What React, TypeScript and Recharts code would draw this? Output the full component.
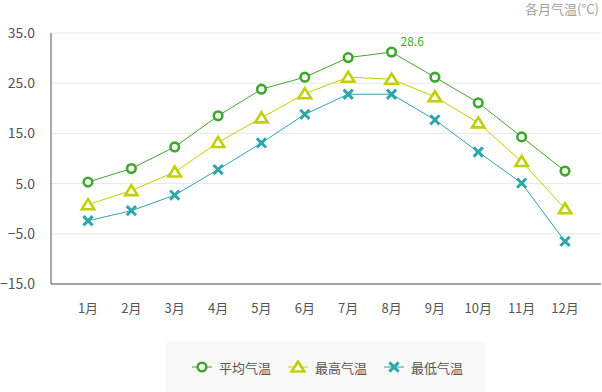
import { CartesianGrid, LabelList, Line, LineChart, XAxis, YAxis } from "recharts";

const months = ["1月", "2月", "3月", "4月", "5月", "6月", "7月", "8月", "9月", "10月", "11月", "12月"];
const avgTemp = [5.3, 8.0, 12.3, 18.5, 23.8, 26.2, 30.1, 31.2, 26.2, 21.1, 14.3, 7.5];
const maxTemp = [0.8, 3.6, 7.3, 13.2, 18.1, 22.9, 26.2, 25.8, 22.3, 17.1, 9.4, 0.0];
const minTemp = [-2.4, -0.4, 2.7, 7.8, 13.1, 18.8, 22.8, 22.8, 17.7, 11.3, 5.1, -6.5];
const yTicks = [-15, -5, 5, 15, 25, 35];
const peakMonth = "8月";
const peakText = "28.6";

const seriesNames = ["平均气温", "最高气温", "最低气温"];
const seriesColors = ["#3ea82c", "#c0d000", "#2ea6aa"];

const data = months.map((m, i) => ({
  month: m,
  avg: avgTemp[i],
  max: maxTemp[i],
  min: minTemp[i],
}));

const font = "'Noto Sans CJK SC', 'Noto Sans', sans-serif";

function Circle({ cx, cy, color }: any) {
  return <circle cx={cx} cy={cy} r={4.3} fill="#fff" stroke={color} strokeWidth={2.6} />;
}

function Triangle({ cx, cy, color }: any) {
  const d = `M${cx},${cy - 5.5} L${cx + 6.2},${cy + 4.5} L${cx - 6.2},${cy + 4.5} Z`;
  return <path d={d} fill="#fff" stroke={color} strokeWidth={2.6} strokeLinejoin="miter" />;
}

function Cross({ cx, cy, color }: any) {
  const s = 4.6;
  return (
    <g stroke={color} strokeWidth={3}>
      <line x1={cx - s} y1={cy - s} x2={cx + s} y2={cy + s} />
      <line x1={cx - s} y1={cy + s} x2={cx + s} y2={cy - s} />
    </g>
  );
}

const markers = [Circle, Triangle, Cross];

function PeakLabel(props: any) {
  const { x, y, index } = props;
  if (months[index] !== peakMonth) return null;
  return (
    <text x={x + 9} y={y - 6} fill={seriesColors[0]} fontSize={12} fontFamily={font}>
      {peakText}
    </text>
  );
}

function LegendIcon({ i }: { i: number }) {
  const Marker = markers[i];
  return (
    <svg width={22} height={14} style={{ display: "block" }}>
      <line x1={1} y1={7} x2={21} y2={7} stroke={seriesColors[i]} strokeWidth={1} />
      <Marker cx={11} cy={7} color={seriesColors[i]} />
    </svg>
  );
}

export default function App() {
  const keys = ["avg", "max", "min"];
  return (
    <div style={{ position: "absolute", left: 0, top: 0, width: 602, height: 392, background: "#fff", fontFamily: font }}>
      <div style={{ position: "absolute", right: 3, top: 1, fontSize: 13, lineHeight: "16px", color: "#a0a0a0" }}>各月气温(°C)</div>
      <LineChart width={602} height={342} data={data} margin={{ top: 33, right: 1, left: 0, bottom: 0 }}>
        <CartesianGrid vertical={false} stroke="#e8e8e8" />
        <XAxis
          dataKey="month"
          padding={{ left: 37, right: 36 }}
          height={58}
          tickLine={false}
          tickSize={0}
          tickMargin={20}
          axisLine={{ stroke: "#555" }}
          tick={{ fill: "#555", fontSize: 13, fontFamily: font }}
          interval={0}
        />
        <YAxis
          width={51}
          domain={[-15, 35]}
          ticks={yTicks}
          tickLine={false}
          tickSize={0}
          tickMargin={16}
          axisLine={{ stroke: "#555" }}
          tick={{ fill: "#555", fontSize: 14, fontFamily: font }}
          tickFormatter={(v: number) => v.toFixed(1).replace("-", "\u2212")}
        />
        {keys.map((k, i) => {
          const Marker = markers[i];
          return (
            <Line
              key={k}
              type="linear"
              dataKey={k}
              stroke={seriesColors[i]}
              strokeWidth={1}
              isAnimationActive={false}
              dot={(p: any) => <Marker key={p.index} cx={p.cx} cy={p.cy} color={seriesColors[i]} />}
              activeDot={false}
            >
              {i === 0 && <LabelList dataKey={k} content={PeakLabel} />}
            </Line>
          );
        })}
      </LineChart>
      <div
        style={{
          position: "absolute",
          left: 166,
          top: 342,
          width: 319,
          height: 50,
          background: "#f8f8f8",
          display: "flex",
          alignItems: "center",
          fontSize: 13,
          color: "#555",
        }}
      >
        {seriesNames.map((n, i) => (
          <div key={n} style={{ display: "flex", alignItems: "center", position: "absolute", left: [25, 121, 217][i] }}>
            <LegendIcon i={i} />
            <span style={{ marginLeft: 6 }}>{n}</span>
          </div>
        ))}
      </div>
    </div>
  );
}
